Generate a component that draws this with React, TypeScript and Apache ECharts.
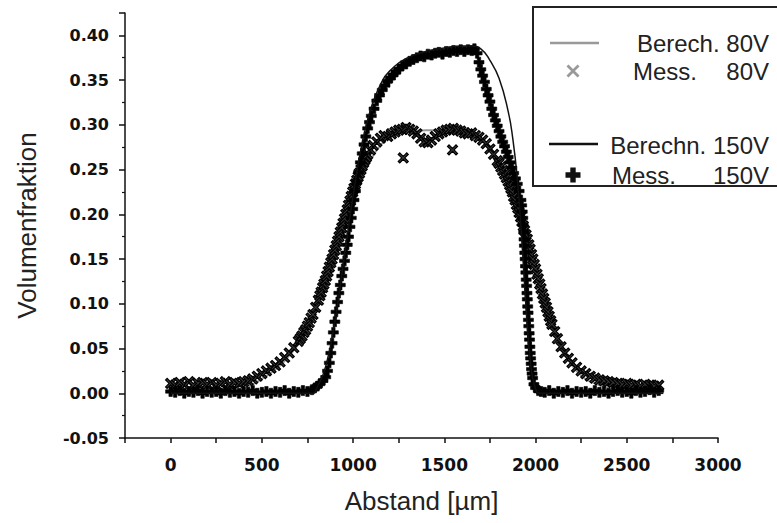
import React, { useEffect, useRef } from "react";
import * as echarts from "echarts";

// Berech. 80V (calculated, gray line)
const calc80V: [number, number][] = [
  [0, 0.0], [100, 0.0], [200, 0.001], [300, 0.001], [350, 0.002], [400, 0.005], [450, 0.01],
  [500, 0.016], [550, 0.023], [600, 0.031], [650, 0.042], [700, 0.055], [750, 0.072],
  [800, 0.093], [850, 0.118], [900, 0.148], [950, 0.18], [1000, 0.212], [1050, 0.24],
  [1100, 0.262], [1150, 0.277], [1200, 0.286], [1300, 0.292], [1400, 0.294], [1500, 0.294],
  [1600, 0.291], [1700, 0.283], [1750, 0.274], [1800, 0.26], [1850, 0.24], [1900, 0.214],
  [1950, 0.18], [2000, 0.143], [2050, 0.105], [2100, 0.073], [2150, 0.048], [2200, 0.031],
  [2250, 0.02], [2300, 0.013], [2400, 0.006], [2500, 0.003], [2600, 0.001], [2700, 0.0],
];

// Mess. 80V (measured, gray x)
const mess80V: [number, number][] = [
  [0, 0.011], [25, 0.009], [50, 0.012], [75, 0.01], [100, 0.013], [125, 0.009], [150, 0.011],
  [175, 0.012], [200, 0.01], [225, 0.012], [250, 0.009], [275, 0.011], [300, 0.013], [325, 0.01],
  [350, 0.012], [375, 0.011], [400, 0.013], [425, 0.014], [450, 0.016], [475, 0.019], [500, 0.022],
  [525, 0.025], [550, 0.028], [575, 0.031], [600, 0.035], [625, 0.04], [650, 0.045], [675, 0.051],
  [700, 0.058], [710, 0.061], [720, 0.064], [730, 0.068], [740, 0.071], [750, 0.075], [760, 0.079],
  [770, 0.084], [780, 0.088], [795, 0.096], [810, 0.104], [818, 0.109], [825, 0.113], [833, 0.118],
  [840, 0.122], [848, 0.126], [855, 0.131], [863, 0.136], [870, 0.141], [878, 0.146], [885, 0.15],
  [893, 0.155], [900, 0.16], [908, 0.165], [915, 0.17], [923, 0.175], [930, 0.18], [938, 0.185],
  [945, 0.19], [953, 0.195], [960, 0.2], [968, 0.205], [975, 0.21], [983, 0.215], [990, 0.22],
  [998, 0.225], [1005, 0.229], [1013, 0.234], [1020, 0.238], [1028, 0.242], [1035, 0.246],
  [1043, 0.25], [1050, 0.254], [1058, 0.258], [1065, 0.261], [1073, 0.264], [1080, 0.267],
  [1095, 0.272], [1110, 0.277], [1130, 0.281], [1150, 0.285], [1170, 0.288], [1190, 0.287],
  [1210, 0.29], [1230, 0.292], [1250, 0.294], [1270, 0.295], [1275, 0.263], [1290, 0.297],
  [1310, 0.295], [1330, 0.293], [1350, 0.29], [1370, 0.285], [1390, 0.281], [1410, 0.28],
  [1430, 0.283], [1450, 0.287], [1470, 0.29], [1490, 0.292], [1510, 0.294], [1530, 0.295],
  [1545, 0.272], [1550, 0.296], [1570, 0.294], [1590, 0.293], [1610, 0.291], [1630, 0.29],
  [1650, 0.291], [1670, 0.288], [1690, 0.286], [1710, 0.283], [1730, 0.279], [1750, 0.273],
  [1770, 0.267], [1790, 0.26], [1800, 0.257], [1810, 0.253], [1820, 0.249], [1830, 0.245],
  [1840, 0.241], [1850, 0.237], [1858, 0.233], [1865, 0.229], [1873, 0.225], [1880, 0.22],
  [1888, 0.216], [1895, 0.211], [1903, 0.207], [1910, 0.202], [1918, 0.197], [1925, 0.192],
  [1933, 0.187], [1940, 0.182], [1948, 0.177], [1955, 0.172], [1963, 0.166], [1970, 0.161],
  [1978, 0.155], [1985, 0.15], [1993, 0.144], [2000, 0.139], [2008, 0.133], [2015, 0.128],
  [2023, 0.122], [2030, 0.117], [2038, 0.111], [2045, 0.106], [2053, 0.101], [2060, 0.096],
  [2068, 0.091], [2075, 0.086], [2083, 0.081], [2090, 0.077], [2105, 0.069], [2120, 0.061],
  [2140, 0.052], [2160, 0.045], [2180, 0.039], [2200, 0.034], [2225, 0.029], [2250, 0.025],
  [2275, 0.022], [2300, 0.019], [2325, 0.017], [2350, 0.015], [2375, 0.014], [2400, 0.013],
  [2425, 0.012], [2450, 0.011], [2475, 0.01], [2500, 0.011], [2525, 0.009], [2550, 0.01],
  [2575, 0.008], [2600, 0.01], [2625, 0.009], [2650, 0.008], [2675, 0.009],
];

// Berechn. 150V (calculated, black line)
const calc150V: [number, number][] = [
  [0, 0.0], [780, 0.0], [800, 0.005], [850, 0.03], [900, 0.08], [950, 0.15], [1000, 0.22],
  [1050, 0.28], [1100, 0.32], [1150, 0.345], [1200, 0.36], [1300, 0.375], [1400, 0.382],
  [1500, 0.386], [1600, 0.388], [1650, 0.388], [1700, 0.385], [1750, 0.372], [1800, 0.352],
  [1850, 0.315], [1875, 0.285], [1900, 0.24], [1925, 0.17], [1950, 0.09], [1975, 0.03],
  [2000, 0.005], [2025, 0.0], [2700, 0.0],
];

// Mess. 150V (measured, black +)
const mess150V: [number, number][] = [
  [0, 0.002], [25, 0.001], [50, 0.003], [75, 0.0], [100, 0.002], [125, 0.001], [150, 0.003],
  [175, 0.0], [200, 0.002], [225, 0.001], [250, 0.002], [275, 0.0], [300, 0.003], [325, 0.001],
  [350, 0.002], [375, 0.0], [400, 0.002], [425, 0.001], [450, 0.003], [475, 0.0], [500, 0.001],
  [525, 0.002], [550, 0.0], [575, 0.002], [600, 0.001], [625, 0.003], [650, 0.0], [675, 0.002],
  [700, 0.001], [725, 0.003], [750, 0.002], [775, 0.004], [790, 0.006], [805, 0.008], [820, 0.011],
  [835, 0.014], [850, 0.018], [860, 0.025], [870, 0.034], [878, 0.045], [885, 0.056], [892, 0.068],
  [900, 0.08], [907, 0.091], [915, 0.102], [922, 0.112], [930, 0.121], [938, 0.131], [945, 0.139],
  [953, 0.148], [960, 0.157], [968, 0.166], [975, 0.175], [983, 0.186], [990, 0.196], [998, 0.206],
  [1005, 0.216], [1013, 0.226], [1020, 0.236], [1030, 0.247], [1040, 0.258], [1050, 0.268],
  [1060, 0.278], [1070, 0.287], [1080, 0.296], [1090, 0.303], [1100, 0.31], [1115, 0.318],
  [1130, 0.327], [1145, 0.333], [1160, 0.339], [1175, 0.344], [1190, 0.349], [1205, 0.352],
  [1220, 0.356], [1235, 0.359], [1250, 0.362], [1270, 0.366], [1290, 0.368], [1310, 0.371],
  [1330, 0.373], [1350, 0.375], [1370, 0.377], [1390, 0.376], [1410, 0.379], [1430, 0.378],
  [1450, 0.38], [1470, 0.381], [1490, 0.379], [1510, 0.382], [1530, 0.381], [1550, 0.383],
  [1570, 0.382], [1590, 0.384], [1610, 0.382], [1630, 0.384], [1650, 0.383], [1665, 0.385],
  [1680, 0.38], [1690, 0.37], [1700, 0.362], [1710, 0.355], [1720, 0.348], [1730, 0.34],
  [1740, 0.333], [1750, 0.326], [1760, 0.318], [1770, 0.311], [1780, 0.305], [1790, 0.299],
  [1800, 0.293], [1810, 0.287], [1820, 0.281], [1830, 0.276], [1840, 0.27], [1850, 0.264],
  [1860, 0.258], [1870, 0.252], [1880, 0.246], [1890, 0.24], [1900, 0.234], [1910, 0.226],
  [1920, 0.216], [1924, 0.21], [1927, 0.203], [1930, 0.196], [1932, 0.188], [1935, 0.18],
  [1937, 0.172], [1939, 0.165], [1941, 0.157], [1943, 0.15], [1945, 0.142], [1947, 0.135],
  [1949, 0.127], [1951, 0.12], [1953, 0.112], [1955, 0.105], [1957, 0.097], [1959, 0.09],
  [1961, 0.082], [1963, 0.075], [1965, 0.067], [1967, 0.06], [1969, 0.052], [1971, 0.045],
  [1973, 0.039], [1976, 0.033], [1978, 0.027], [1981, 0.022], [1984, 0.017], [1991, 0.01],
  [2000, 0.006], [2015, 0.003], [2030, 0.002], [2050, 0.001], [2075, 0.003], [2100, 0.0],
  [2125, 0.002], [2150, 0.001], [2175, 0.003], [2200, 0.0], [2225, 0.002], [2250, 0.001],
  [2275, 0.002], [2300, 0.0], [2325, 0.003], [2350, 0.001], [2375, 0.002], [2400, 0.0],
  [2425, 0.002], [2450, 0.003], [2475, 0.001], [2500, 0.002], [2525, 0.0], [2550, 0.003],
  [2575, 0.001], [2600, 0.002], [2625, 0.004], [2650, 0.001], [2675, 0.003],
];

const X_PATH =
  "path://M1.5,0L5,3.5L8.5,0L10,1.5L6.5,5L10,8.5L8.5,10L5,6.5L1.5,10L0,8.5L3.5,5L0,1.5Z";
const PLUS_PATH = "path://M3.3,0H6.7V3.3H10V6.7H6.7V10H3.3V6.7H0V3.3H3.3Z";

const X_PTS = [
  [1.5, 0], [5, 3.5], [8.5, 0], [10, 1.5], [6.5, 5], [10, 8.5], [8.5, 10], [5, 6.5],
  [1.5, 10], [0, 8.5], [3.5, 5], [0, 1.5],
];
const PLUS_PTS = [
  [3.2, 0], [6.8, 0], [6.8, 3.2], [10, 3.2], [10, 6.8], [6.8, 6.8], [6.8, 10], [3.2, 10],
  [3.2, 6.8], [0, 6.8], [0, 3.2], [3.2, 3.2],
];

const place = (pts: number[][], cx: number, cy: number, size: number) =>
  pts.map(([a, b]) => [cx - size / 2 + (a * size) / 10, cy - size / 2 + (b * size) / 10]);

export default function App() {
  const ref = useRef<HTMLDivElement>(null);
  useEffect(() => {
    const chart = echarts.init(ref.current!, null, { renderer: "svg" });
    const legendFont = {
      fontFamily: "Liberation Sans, Arial, sans-serif",
      fontSize: 24,
      fill: "#222",
    };
    chart.setOption({
      animation: false,
      backgroundColor: "#fff",
      grid: { left: 125, right: 59, top: 13, bottom: 85 },
      xAxis: {
        type: "value",
        min: -250,
        max: 3000,
        interval: 250,
        name: "Abstand [µm]",
        nameLocation: "middle",
        nameGap: 50,
        nameTextStyle: { fontFamily: "Liberation Sans, Arial, sans-serif", fontSize: 26, color: "#222" },
        axisLine: { onZero: false, lineStyle: { color: "#111", width: 1.5 } },
        axisTick: { length: 5, lineStyle: { color: "#111", width: 1.5 } },
        axisLabel: {
          margin: 18,
          fontFamily: "DejaVu Sans, sans-serif",
          fontWeight: "bold",
          fontSize: 17,
          color: "#111",
          formatter: (v: number) => (v >= 0 && v % 500 === 0 ? String(v) : ""),
        },
        splitLine: { show: false },
      },
      yAxis: {
        type: "value",
        min: -0.05,
        max: 0.425,
        interval: 0.05,
        name: "Volumenfraktion",
        nameLocation: "middle",
        nameGap: 85,
        nameTextStyle: { fontFamily: "Liberation Sans, Arial, sans-serif", fontSize: 26, color: "#222" },
        axisLine: { onZero: false, lineStyle: { color: "#111", width: 1.5 } },
        axisTick: { length: 6, lineStyle: { color: "#111", width: 1.5 } },
        minorTick: { show: true, splitNumber: 2, length: 3, lineStyle: { color: "#111", width: 1.2 } },
        axisLabel: {
          margin: 16,
          fontFamily: "DejaVu Sans, sans-serif",
          fontWeight: "bold",
          fontSize: 16,
          color: "#111",
          formatter: (v: number) =>
            Math.abs(Math.round(v * 20) - v * 20) < 1e-6 ? v.toFixed(2) : "",
        },
        splitLine: { show: false },
      },
      series: [
        {
          name: "Berech. 80V",
          type: "line",
          data: calc80V,
          showSymbol: false,
          smooth: true,
          lineStyle: { color: "#999", width: 2 },
          z: 1,
        },
        {
          name: "Mess. 80V",
          type: "scatter",
          data: mess80V,
          symbol: X_PATH,
          symbolSize: 10,
          itemStyle: { color: "#3a3a3a", borderColor: "#000", borderWidth: 1.2, opacity: 1 },
          z: 2,
        },
        {
          name: "Mess. 150V",
          type: "scatter",
          data: mess150V,
          symbol: PLUS_PATH,
          symbolSize: 10,
          itemStyle: { color: "#000", borderColor: "#000", borderWidth: 0.6, opacity: 1 },
          z: 3,
        },
        {
          name: "Berechn. 150V",
          type: "line",
          data: calc150V,
          showSymbol: false,
          smooth: true,
          lineStyle: { color: "#111", width: 1.5 },
          z: 4,
        },
      ],
      graphic: [
        {
          type: "rect",
          shape: { x: 533, y: 7, width: 262, height: 179 },
          style: { fill: "#fff", stroke: "#222", lineWidth: 2 },
          z: 100,
        },
        {
          type: "line",
          shape: { x1: 550, y1: 43, x2: 599, y2: 43 },
          style: { stroke: "#999", lineWidth: 2.5 },
          z: 101,
        },
        {
          type: "text",
          x: 769,
          y: 43,
          style: { ...legendFont, text: "Berech. 80V", align: "right", verticalAlign: "middle" },
          z: 101,
        },
        {
          type: "polygon",
          shape: { points: place(X_PTS, 573, 71, 13) },
          style: { fill: "#999" },
          z: 101,
        },
        {
          type: "text",
          x: 633,
          y: 71,
          style: { ...legendFont, text: "Mess.", align: "left", verticalAlign: "middle" },
          z: 101,
        },
        {
          type: "text",
          x: 769,
          y: 71,
          style: { ...legendFont, text: "80V", align: "right", verticalAlign: "middle" },
          z: 101,
        },
        {
          type: "line",
          shape: { x1: 549, y1: 144, x2: 598, y2: 144 },
          style: { stroke: "#111", lineWidth: 2.5 },
          z: 101,
        },
        {
          type: "text",
          x: 769,
          y: 145,
          style: { ...legendFont, text: "Berechn. 150V", align: "right", verticalAlign: "middle" },
          z: 101,
        },
        {
          type: "polygon",
          shape: { points: place(PLUS_PTS, 573, 175, 15) },
          style: { fill: "#111" },
          z: 101,
        },
        {
          type: "text",
          x: 612,
          y: 175,
          style: { ...legendFont, text: "Mess.", align: "left", verticalAlign: "middle" },
          z: 101,
        },
        {
          type: "text",
          x: 769,
          y: 175,
          style: { ...legendFont, text: "150V", align: "right", verticalAlign: "middle" },
          z: 101,
        },
      ],
    });
    return () => chart.dispose();
  }, []);
  return (
    <div
      ref={ref}
      style={{ position: "absolute", left: 0, top: 0, width: 777, height: 523 }}
    />
  );
}
